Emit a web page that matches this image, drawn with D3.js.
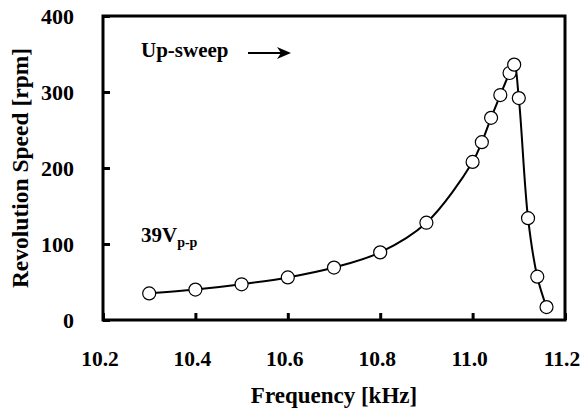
<!DOCTYPE html>
<html>
<head>
<meta charset="utf-8">
<script src="https://cdn.jsdelivr.net/npm/d3@7"></script>
</head>
<body style="margin:0; background:#fff">
<div id="wrapper"></div>
<script>
// data
const freqs  = [10.3, 10.4, 10.5, 10.6, 10.7, 10.8, 10.9, 11.0, 11.02, 11.04, 11.06, 11.08, 11.09, 11.1, 11.12, 11.14, 11.16]
const speeds = [35, 40, 47, 56, 69, 89, 128, 208, 234, 266, 296, 325, 336, 292, 134, 57, 17]
const xTicks = [10.2, 10.4, 10.6, 10.8, 11.0, 11.2]
const yTicks = [0, 100, 200, 300, 400]

const dataset = freqs.map((f, i) => ({ f: f, s: speeds[i] }))
const FONT = "Liberation Serif"

let dimensions = {
  width: 582,
  height: 412,
  margins: { top: 16, right: 17, bottom: 92, left: 103 },
}
dimensions.boundedWidth = dimensions.width - dimensions.margins.left - dimensions.margins.right
dimensions.boundedHeight = dimensions.height - dimensions.margins.top - dimensions.margins.bottom

const svg = d3.select("#wrapper").append("svg")
  .attr("width", dimensions.width)
  .attr("height", dimensions.height)
  .attr("font-family", FONT)
  .attr("font-weight", "bold")

const bounds = svg.append("g")
  .attr("transform", `translate(${dimensions.margins.left},${dimensions.margins.top})`)

const xScale = d3.scaleLinear().domain([10.2, 11.2]).range([0, dimensions.boundedWidth])
const yScale = d3.scaleLinear().domain([0, 400]).range([dimensions.boundedHeight, 0])

// axes, ticks inside
const xAxis = bounds.append("g")
  .attr("transform", `translate(0,${dimensions.boundedHeight})`)
  .call(d3.axisBottom(xScale).tickValues(xTicks).tickFormat(d3.format(".1f"))
    .tickSizeInner(-7).tickSizeOuter(0).tickPadding(31))
const yAxis = bounds.append("g")
  .call(d3.axisLeft(yScale).tickValues(yTicks)
    .tickSizeInner(-7).tickSizeOuter(0).tickPadding(29))

bounds.selectAll(".domain").remove()
bounds.selectAll(".tick line").attr("stroke", "#000").attr("stroke-width", 3)
xAxis.attr("font-family", FONT).attr("font-size", 21.5)
yAxis.attr("font-family", FONT).attr("font-size", 22)
bounds.selectAll(".tick text")
  .attr("fill", "#000")
  .attr("font-weight", "bold")
xAxis.selectAll(".tick text").attr("dy", "0.71em").attr("dx", -3.5)

// frame
bounds.append("rect")
  .attr("width", dimensions.boundedWidth)
  .attr("height", dimensions.boundedHeight)
  .attr("fill", "none")
  .attr("stroke", "#000")
  .attr("stroke-width", 3)

// curve
const lineGenerator = d3.line()
  .x(d => xScale(d.f))
  .y(d => yScale(d.s))
  .curve(d3.curveCatmullRom.alpha(0.5))

bounds.append("path")
  .attr("d", lineGenerator(dataset))
  .attr("fill", "none")
  .attr("stroke", "#000")
  .attr("stroke-width", 2)

bounds.selectAll("circle").data(dataset).join("circle")
  .attr("cx", d => xScale(d.f))
  .attr("cy", d => yScale(d.s))
  .attr("r", 6.5)
  .attr("fill", "#fff")
  .attr("stroke", "#000")
  .attr("stroke-width", 1.2)

// annotations
bounds.append("text")
  .attr("x", 38).attr("y", 41)
  .attr("font-size", 21)
  .text("Up-sweep")

bounds.append("path")
  .attr("d", "M145,37 L182,37")
  .attr("stroke", "#000").attr("stroke-width", 2)
bounds.append("path")
  .attr("d", "M188,37 L174,31 L178,37 L174,43 Z")
  .attr("fill", "#000")

const vLabel = bounds.append("text")
  .attr("x", 38).attr("y", 226)
  .attr("font-size", 21)
vLabel.append("tspan").text("39V")
vLabel.append("tspan").attr("dy", 5).attr("font-size", 14).text("p-p")

// axis titles
svg.append("text")
  .attr("x", dimensions.margins.left + dimensions.boundedWidth / 2)
  .attr("y", 403)
  .attr("text-anchor", "middle")
  .attr("font-size", 23)
  .text("Frequency [kHz]")

svg.append("text")
  .attr("transform", `translate(28,${dimensions.margins.top + dimensions.boundedHeight / 2}) rotate(-90)`)
  .attr("text-anchor", "middle")
  .attr("font-size", 23.5)
  .text("Revolution Speed [rpm]")
</script>
</body>
</html>
